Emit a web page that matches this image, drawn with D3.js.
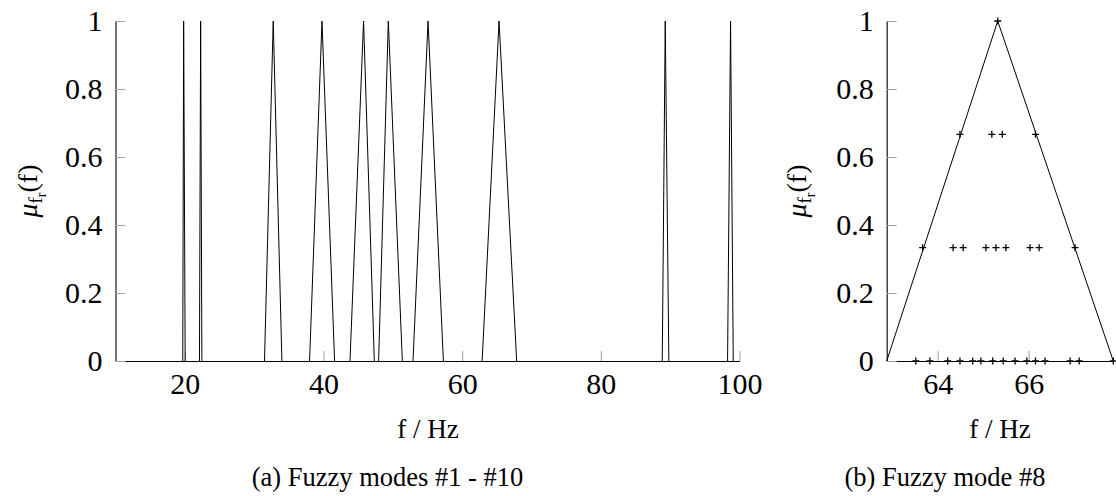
<!DOCTYPE html>
<html>
<head>
<meta charset="utf-8">
<script src="https://cdn.jsdelivr.net/npm/d3@7"></script>
<style>
  body { margin: 0; background: #fff; }
  svg { display: block; font-family: "Liberation Serif", "DejaVu Serif", serif; }
  .domain { stroke: #000; stroke-width: 1.1; }
  .tick line { stroke: #a0a0a0; stroke-width: 1; }
</style>
</head>
<body>
<svg width="1116" height="496"></svg>
<script>

// fuzzy modes #1 - #10 : lower foot, peak, upper foot (Hz)
var modeLower = [19.7, 22.11, 31.49, 37.99, 43.82, 47.95, 52.91, 62.88, 88.86, 98.28];
var modePeak  = [19.83, 22.28, 32.75, 39.78, 45.78, 49.35, 55.08, 65.32, 89.29, 98.71];
var modeUpper = [20.05, 22.46, 34.0, 41.6, 47.33, 51.37, 57.29, 67.86, 89.81, 99.1];

// fuzzy mode #8 samples, grouped by membership value
var samplesMu0   = [63.52, 63.83, 64.22, 64.49, 64.77, 64.95, 65.21, 65.44, 65.70, 65.96, 66.15, 66.36, 66.91, 67.11, 67.86];
var samplesMu1_3 = [63.67, 64.34, 64.56, 65.06, 65.28, 65.50, 66.03, 66.23, 67.02];
var samplesMu2_3 = [64.49, 65.19, 65.42, 66.15];
var samplesMu1   = [65.32];

var yTicks = [0, 0.2, 0.4, 0.6, 0.8, 1];
var xTicksA = [20, 40, 60, 80, 100];
var xTicksB = [64, 66];

var svg = d3.select("svg");

var plotTop = 21, plotBottom = 361;

var y = d3.scaleLinear().domain([0, 1]).range([plotBottom, plotTop]);
var xA = d3.scaleLinear().domain([10, 100]).range([115.5, 739.5]);
var xB = d3.scaleLinear().domain([62.88, 67.86]).range([886.7, 1113.3]);

var lineA = d3.line()
    .x(function(d) { return xA(d[0]); })
    .y(function(d) { return y(d[1]); });

var lineB = d3.line()
    .x(function(d) { return xB(d[0]); })
    .y(function(d) { return y(d[1]); });

function drawAxes(x, xTicks, xStart) {
  var g = svg.append("g");

  g.append("g")
      .attr("transform", "translate(0," + plotBottom + ")")
      .call(d3.axisBottom(x).tickValues(xTicks).tickSizeInner(-10).tickSizeOuter(0).tickPadding(12)
          .tickFormat(d3.format("d")));

  g.append("g")
      .attr("transform", "translate(" + xStart + ",0)")
      .call(d3.axisLeft(y).tickValues(yTicks).tickSizeInner(-10).tickSizeOuter(0).tickPadding(13)
          .tickFormat(function(d) { return d3.format("~g")(d); }));

  g.selectAll("g").attr("font-family", null).attr("font-size", null);
  g.selectAll(".tick text")
      .style("font-family", "'Liberation Serif', 'Times New Roman', serif")
      .style("font-size", "30px")
      .style("fill", "#000");
  return g;
}

function yLabel(xPos) {
  var t = svg.append("text")
      .attr("transform", "translate(" + xPos + "," + ((plotTop + plotBottom) / 2) + ") rotate(-90)")
      .attr("text-anchor", "middle")
      .attr("font-size", 28);
  t.append("tspan").attr("font-style", "italic").text("\u03bc");
  t.append("tspan").attr("font-size", 19).attr("dy", 5).text("f");
  t.append("tspan").attr("font-size", 14).attr("dy", 4).text("r");
  t.append("tspan").attr("dy", -9).text("(f)");
}

function xLabel(xPos) {
  svg.append("text")
      .attr("x", xPos)
      .attr("y", 438)
      .attr("text-anchor", "middle")
      .attr("font-size", 27)
      .text("f / Hz");
}

function caption(xPos, txt) {
  svg.append("text")
      .attr("x", xPos)
      .attr("y", 486)
      .attr("text-anchor", "middle")
      .attr("font-size", 26.5)
      .text(txt);
}

// (a) all fuzzy modes
drawAxes(xA, xTicksA, xA.range()[0]);

var modes = modePeak.map(function(p, i) {
  return [[modeLower[i], 0], [p, 1], [modeUpper[i], 0]];
});

svg.append("g")
    .selectAll("path")
    .data(modes)
    .enter().append("path")
      .attr("d", lineA)
      .attr("fill", "none")
      .attr("stroke", "#000")
      .attr("stroke-width", 1);

yLabel(37);
xLabel(428);
caption(387.5, "(a) Fuzzy modes #1 - #10");

// (b) fuzzy mode #8
drawAxes(xB, xTicksB, xB.range()[0]);

svg.append("path")
    .datum([[modeLower[7], 0], [modePeak[7], 1], [modeUpper[7], 0]])
    .attr("d", lineB)
    .attr("fill", "none")
    .attr("stroke", "#000")
    .attr("stroke-width", 1);

var samples = [];
samplesMu0.forEach(function(f) { samples.push([f, 0]); });
samplesMu1_3.forEach(function(f) { samples.push([f, 1 / 3]); });
samplesMu2_3.forEach(function(f) { samples.push([f, 2 / 3]); });
samplesMu1.forEach(function(f) { samples.push([f, 1]); });

svg.append("g")
    .selectAll("path")
    .data(samples)
    .enter().append("path")
      .attr("transform", function(d) { return "translate(" + xB(d[0]) + "," + y(d[1]) + ")"; })
      .attr("d", "M-3.5,0H3.5M0,-3.5V3.5")
      .attr("stroke", "#000")
      .attr("stroke-width", 1.3);

yLabel(806);
xLabel(1000);
caption(945, "(b) Fuzzy mode #8");

</script>
</body>
</html>
